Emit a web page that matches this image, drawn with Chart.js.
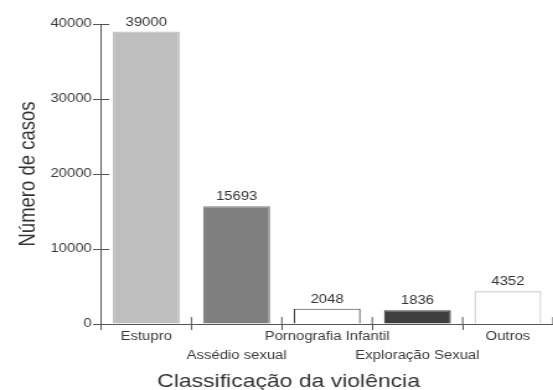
<!DOCTYPE html>
<html>
<head>
<meta charset="utf-8">
<script src="https://cdn.jsdelivr.net/npm/chart.js@4/dist/chart.umd.min.js"></script>
<style>
  html, body { margin: 0; padding: 0; background: #fff; overflow: hidden; }
  #wrap { width: 553px; height: 390px; overflow: hidden; }
  /* the figure is drawn on a narrower canvas and widened horizontally */
  #c { display: block; transform: scaleX(1.24); transform-origin: 0 0; }
</style>
</head>
<body>
<div id="wrap"><canvas id="c" width="446" height="390"></canvas></div>
<script>
// Casos registrados por tipo de violência
const categories = ['Estupro', 'Assédio sexual', 'Pornografia Infantil', 'Exploração Sexual', 'Outros'];
const casos = [39000, 15693, 2048, 1836, 4352];
const yTicks = [0, 10000, 20000, 30000, 40000];
const xTitle = 'Classificação da violência';
const yTitle = 'Número de casos';

const fills = ['#bebebe', '#7f7f7f', '#ffffff', '#3f3f3f', '#ffffff'];
const borders = ['#bebebe', '#7f7f7f', '#3f3f3f', '#3f3f3f', '#bebebe'];

const axisColor = '#555555';
const textColor = '#3a3a3a';
const family = '"Liberation Sans", Arial, sans-serif';

// valores escritos acima de cada barra
const valueLabels = {
  id: 'valueLabels',
  afterDatasetsDraw(chart) {
    const ctx = chart.ctx;
    const meta = chart.getDatasetMeta(0);
    ctx.save();
    ctx.font = '12px ' + family;
    ctx.fillStyle = '#333333';
    ctx.textAlign = 'center';
    ctx.textBaseline = 'alphabetic';
    meta.data.forEach((bar, i) => {
      ctx.fillText(String(chart.data.datasets[0].data[i]), bar.x, bar.y - 6);
    });
    ctx.restore();
  }
};

// pequenas marcas que atravessam os eixos para dentro da área do gráfico
const innerTicks = {
  id: 'innerTicks',
  afterDraw(chart) {
    const ctx = chart.ctx;
    const { x, y } = chart.scales;
    const area = chart.chartArea;
    ctx.save();
    ctx.strokeStyle = axisColor;
    ctx.lineWidth = 1;
    ctx.beginPath();
    y.ticks.forEach((t, i) => {
      if (t.value === 0) return;
      const py = Math.round(y.getPixelForTick(i)) + 0.5;
      ctx.moveTo(area.left, py);
      ctx.lineTo(area.left + 6.5, py);
    });
    for (let i = 1; i <= categories.length; i++) {
      const px = x.getPixelForValue(i - 0.5);
      ctx.moveTo(px, area.bottom);
      ctx.lineTo(px, area.bottom - 7);
    }
    ctx.stroke();
    ctx.restore();
  }
};

// título do eixo horizontal, um pouco à esquerda do centro da área
const xAxisTitle = {
  id: 'xAxisTitle',
  afterDraw(chart) {
    const ctx = chart.ctx;
    const sx = chart.scales.x;
    ctx.save();
    ctx.font = '18.5px ' + family;
    ctx.fillStyle = '#333333';
    ctx.textAlign = 'center';
    ctx.textBaseline = 'middle';
    ctx.fillText(xTitle, (sx.left + sx.right) / 2 - 31, sx.bottom - 8);
    ctx.restore();
  }
};

new Chart(document.getElementById('c'), {
  type: 'bar',
  data: {
    labels: categories,
    datasets: [{
      data: casos,
      backgroundColor: fills,
      borderColor: borders,
      borderWidth: 1.2,
      categoryPercentage: 1,
      barPercentage: 0.74
    }]
  },
  options: {
    responsive: false,
    animation: false,
    devicePixelRatio: 1,
    layout: { padding: { top: 24, right: 0, left: 0, bottom: 0 } },
    plugins: {
      legend: { display: false },
      tooltip: { enabled: false }
    },
    scales: {
      x: {
        offset: true,
        border: { display: true, color: axisColor, width: 1 },
        grid: {
          offset: true,
          drawOnChartArea: false,
          drawTicks: true,
          tickLength: 6,
          color: axisColor
        },
        ticks: {
          color: textColor,
          font: { family: family, size: 12, lineHeight: 1.6 },
          maxRotation: 0,
          autoSkip: false,
          padding: -3,
          callback(value, index) {
            const name = categories[index];
            return index % 2 === 1 ? ['', name] : name;
          }
        },
        title: { display: false },
        afterFit(scale) { scale.height = 66; }
      },
      y: {
        min: 0,
        max: 40000,
        afterBuildTicks(scale) {
          scale.ticks = yTicks.map(v => ({ value: v }));
        },
        border: { display: true, color: axisColor, width: 1 },
        grid: {
          drawOnChartArea: false,
          drawTicks: true,
          tickLength: 6.5,
          color: axisColor
        },
        ticks: {
          color: textColor,
          font: { family: family, size: 12 },
          padding: 1,
          callback(value) { return String(value); }
        },
        title: {
          display: true,
          text: yTitle,
          color: '#333333',
          font: { family: family, size: 18.5, lineHeight: 1.0 },
          padding: { top: 13.5, bottom: 0 }
        },
        afterFit(scale) { scale.width = 81.5; }
      }
    }
  },
  plugins: [valueLabels, innerTicks, xAxisTitle]
});
</script>
</body>
</html>
